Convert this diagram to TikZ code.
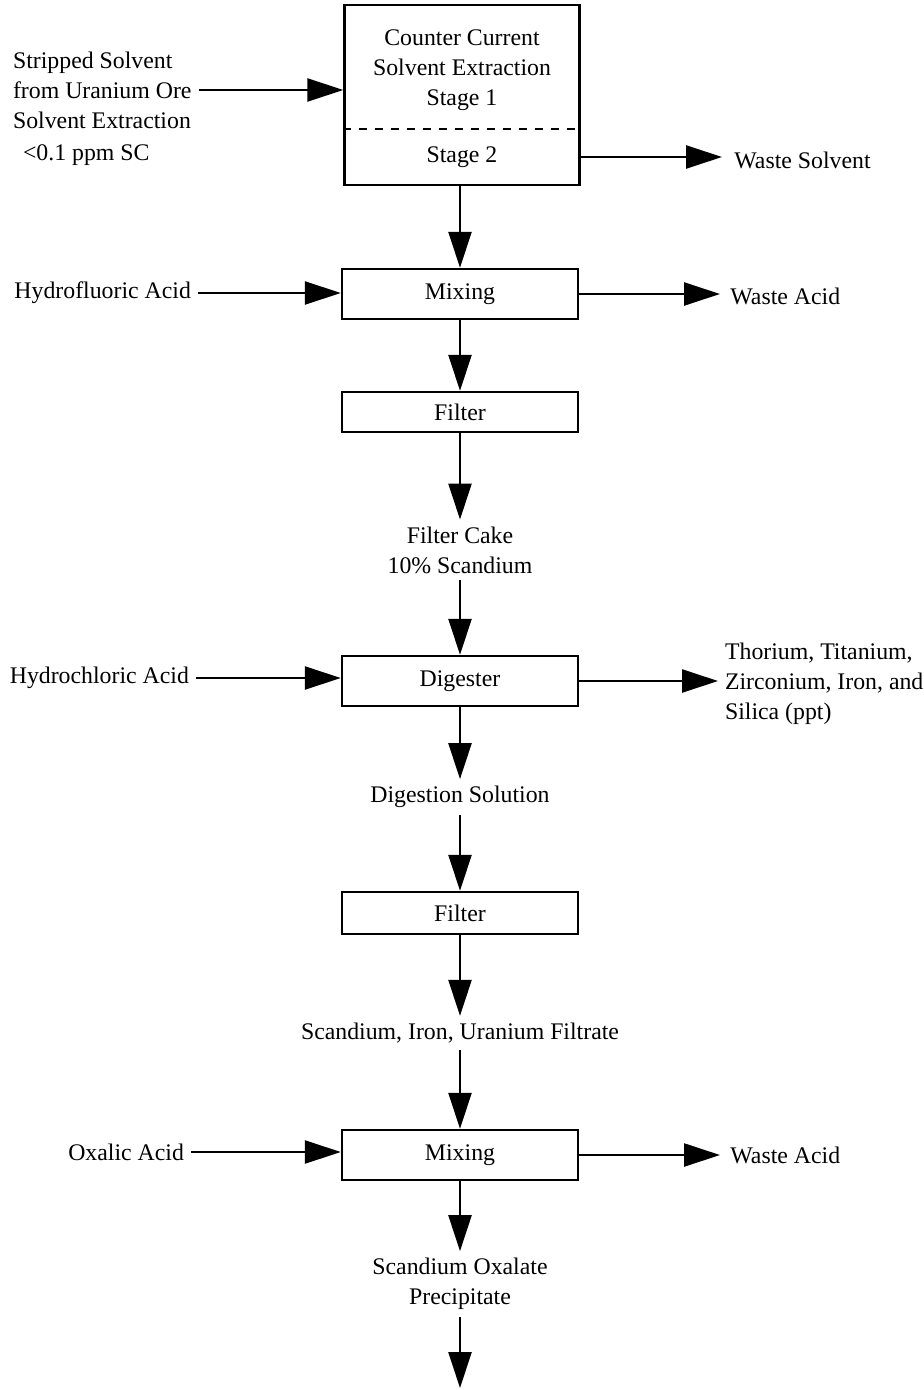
\documentclass[tikz,border=0pt]{standalone}
\usepackage{fontspec}
\setmainfont{Liberation Serif}
\usepackage{tikz}
\usetikzlibrary{arrows.meta,positioning}

\begin{document}
\begin{tikzpicture}[
    x=0.5pt,
    y=-0.5pt,
    font=\fontsize{11.9}{15}\selectfont,
    box/.style={draw, line width=1.2pt, minimum width=118pt, minimum height=25pt, inner sep=0pt},
    lbl/.style={align=center},
    arr/.style={line width=1.2pt, -{Triangle[length=18pt,width=11.5pt]}}
]
\useasboundingbox (0,0) rectangle (923,1390);

\node[box, minimum width=117.5pt, minimum height=90pt] (cce) at (462,95) {};
\node[lbl] (st1) at (462,70) {Counter Current\\Solvent Extraction\\Stage 1};
\node[lbl] (st2) at (462,157) {Stage 2};
\draw[dashed, line width=0.6pt, dash pattern=on 4pt off 4pt] (cce.west |- 0,129) -- (cce.east |- 0,129);

\node[align=left, anchor=west] (strip) at (6,90) {Stripped Solvent\\from Uranium Ore\\Solvent Extraction};
\node[anchor=west] (ppm) at (16,155) {<0.1 ppm SC};
\node[anchor=west, inner sep=6pt] (ws) at (722,160) {Waste Solvent};

\node[box] (mix1) at (460,294) {Mixing};
\node[anchor=east] (hf) at (198,293) {Hydrofluoric Acid};
\node[anchor=west, inner sep=5pt] (wa1) at (720,296) {Waste Acid};

\node[box, minimum height=20pt] (filt1) at (460,412) {Filter};
\node[lbl] (cake) at (460,550) {Filter Cake\\10\% Scandium};

\node[box] (dig) at (460,681) {Digester};
\node[anchor=east] (hcl) at (196,678) {Hydrochloric Acid};
\node[align=left, anchor=west] (thor) at (718,684) {Thorium, Titanium,\\Zirconium, Iron, and\\Silica (ppt)};
\node[lbl] (dsol) at (460,797) {Digestion Solution};

\node[box, minimum height=21pt] (filt2) at (460,913) {Filter};
\node[lbl] (filtr) at (460,1033) {Scandium, Iron, Uranium Filtrate};

\node[box] (mix2) at (460,1155) {Mixing};
\node[anchor=east] (oxa) at (191,1152) {Oxalic Acid};
\node[anchor=west, inner sep=5pt] (wa2) at (720,1155) {Waste Acid};
\node[lbl] (prec) at (460,1284) {Scandium Oxalate\\Precipitate};
\coordinate (out) at (460,1388);

\draw[arr] (strip.east) -- (strip.east -| cce.west);
\draw[arr] (st2 -| cce.east) -- (st2 -| ws.west);
\draw[arr] (cce.south -| mix1.north) -- (mix1.north);
\draw[arr] (hf.east) -- (hf.east -| mix1.west);
\draw[arr] (mix1.east) -- (mix1.east -| wa1.west);
\draw[arr] (mix1.south) -- (filt1.north);
\draw[arr] (filt1.south) -- (cake.north);
\draw[arr] (cake.south) -- (dig.north);
\draw[arr] (hcl.east) -- (hcl.east -| dig.west);
\draw[arr] (dig.east) -- (dig.east -| thor.west);
\draw[arr] (dig.south) -- (dsol.north);
\draw[arr] (dsol.south) -- (filt2.north);
\draw[arr] (filt2.south) -- (filtr.north);
\draw[arr] (filtr.south) -- (mix2.north);
\draw[arr] (oxa.east) -- (oxa.east -| mix2.west);
\draw[arr] (mix2.east) -- (mix2.east -| wa2.west);
\draw[arr] (mix2.south) -- (prec.north);
\draw[arr] (prec.south) -- (out);
\end{tikzpicture}
\end{document}
